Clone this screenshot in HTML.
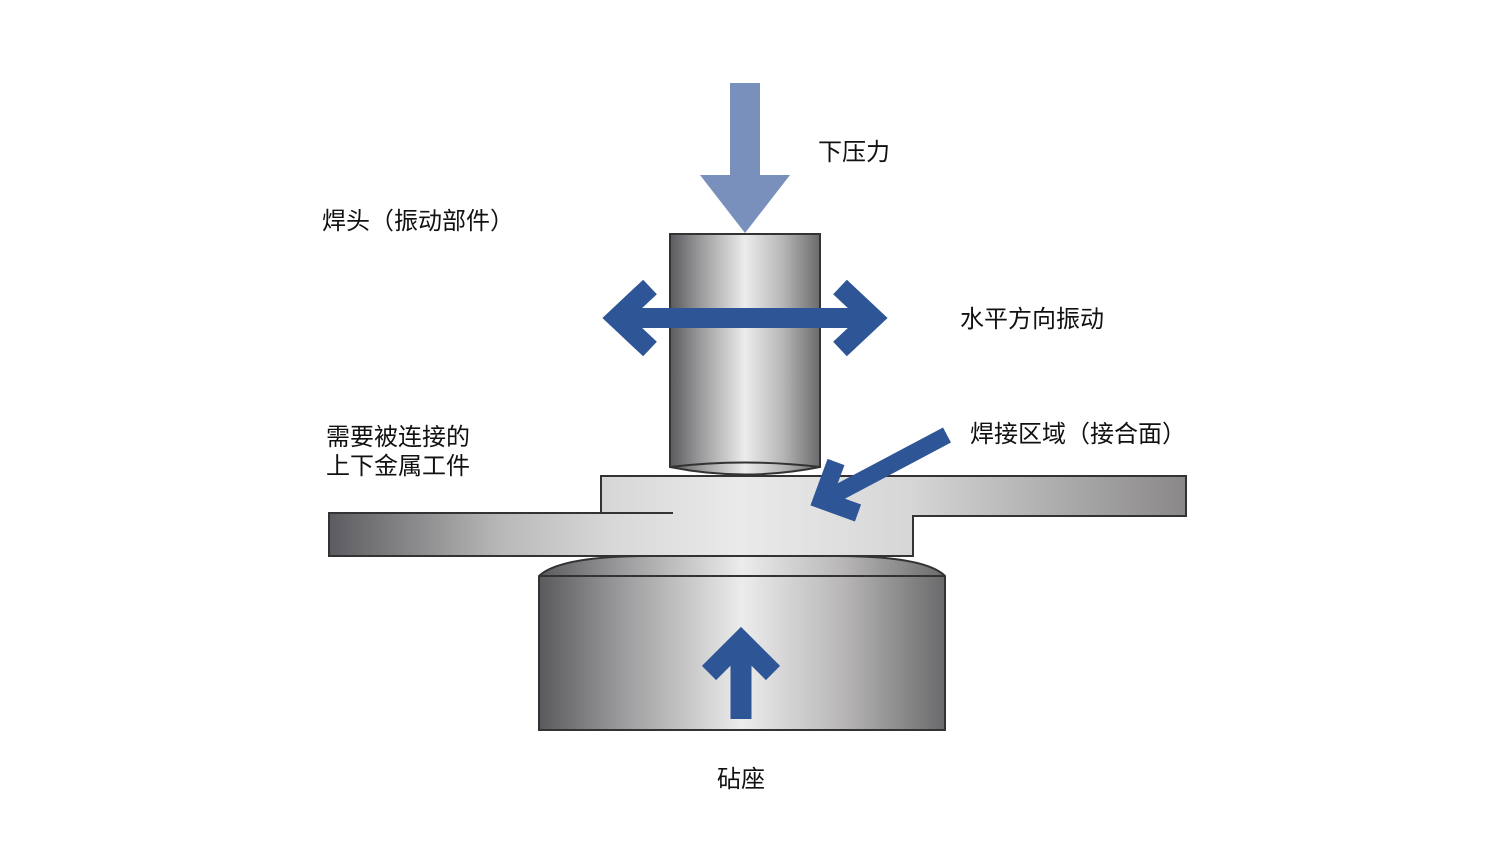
<!DOCTYPE html>
<html><head><meta charset="utf-8"><style>
html,body{margin:0;padding:0;background:#fff;}
svg{display:block}
text{font-family:"Liberation Sans","Noto Sans CJK SC",sans-serif;font-size:24px;fill:#111}
</style></head><body>
<svg width="1502" height="867" viewBox="0 0 1502 867">
<defs>
<linearGradient id="g" x1="0" x2="1" y1="0" y2="0">
<stop offset="0" stop-color="#5a5a5e"/>
<stop offset="0.2" stop-color="#9a9a9c"/>
<stop offset="0.5" stop-color="#ececec"/>
<stop offset="0.75" stop-color="#b8b6b6"/>
<stop offset="1" stop-color="#6a6a6c"/>
</linearGradient>
<linearGradient id="gp" gradientUnits="userSpaceOnUse" x1="329" x2="1186" y1="0" y2="0">
<stop offset="0" stop-color="#5c5c60"/>
<stop offset="0.2" stop-color="#b8b8b8"/>
<stop offset="0.33" stop-color="#d8d8d8"/>
<stop offset="0.48" stop-color="#eaeaea"/>
<stop offset="0.68" stop-color="#d6d6d6"/>
<stop offset="1" stop-color="#8a8888"/>
</linearGradient>
</defs>
<polygon points="730,83 760,83 760,175 790,175 745,233 700,175 730,175" fill="#7890bb"/>
<path d="M670,234 H820 V467 Q745,482 670,467 Z" fill="url(#g)" stroke="#333" stroke-width="2"/>
<path d="M670,467 Q745,458 820,467" fill="none" stroke="#333" stroke-width="2"/>
<line x1="620" y1="318" x2="870" y2="318" stroke="#2e5596" stroke-width="20"/>
<polyline points="650,287 617,318 650,349" fill="none" stroke="#2e5596" stroke-width="20" stroke-linejoin="miter"/>
<polyline points="840,287 873,318 840,349" fill="none" stroke="#2e5596" stroke-width="20" stroke-linejoin="miter"/>
<polygon points="329,513 601,513 601,476 1186,476 1186,516 913,516 913,556 329,556" fill="url(#gp)" stroke="#333" stroke-width="2"/>
<line x1="601" y1="513" x2="673" y2="513" stroke="#333" stroke-width="2"/>
<path d="M539,576 Q560,556 650,556 H835 Q925,556 945,576 V730 H539 Z" fill="url(#g)" stroke="#333" stroke-width="2"/>
<line x1="539" y1="576" x2="945" y2="576" stroke="#333" stroke-width="2"/>
<line x1="741" y1="719" x2="741" y2="645" stroke="#2e5596" stroke-width="21"/>
<polyline points="709,673 741,641 773,673" fill="none" stroke="#2e5596" stroke-width="20" stroke-linejoin="miter"/>
<line x1="947" y1="435" x2="830" y2="497" stroke="#2e5596" stroke-width="17"/>
<polyline points="836,462 822,500 858,513" fill="none" stroke="#2e5596" stroke-width="18" stroke-linejoin="miter"/>
<text x="818" y="160">下压力</text>
<text x="322" y="229">焊头（振动部件）</text>
<text x="960" y="327">水平方向振动</text>
<text x="970" y="442">焊接区域（接合面）</text>
<text x="326" y="445">需要被连接的</text>
<text x="326" y="474">上下金属工件</text>
<text x="717" y="787">砧座</text>
</svg>
</body></html>
